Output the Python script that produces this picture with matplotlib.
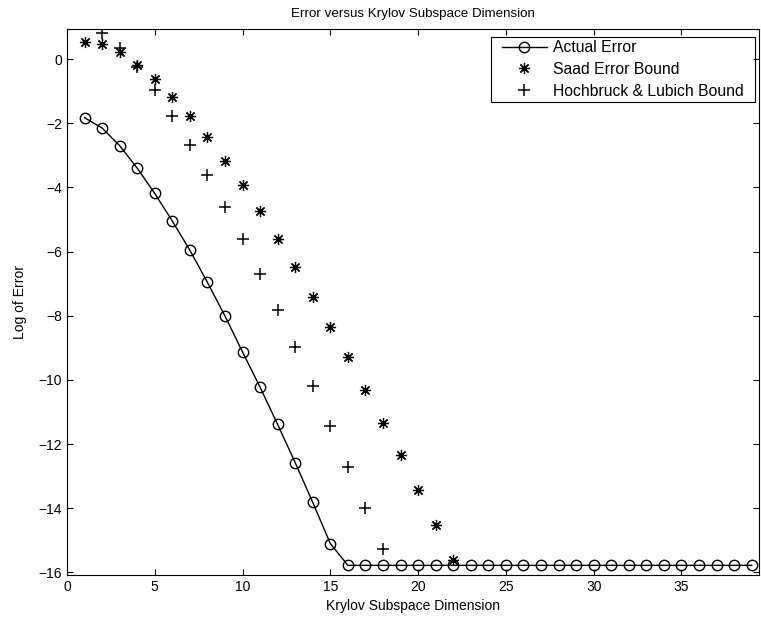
import numpy as np
import matplotlib.pyplot as plt
from matplotlib.patches import Rectangle

plt.rcParams['font.family'] = ['Liberation Sans', 'DejaVu Sans']

# data
dims = np.arange(1, 40)
actual = [-1.83, -2.15, -2.70, -3.40, -4.19, -5.05, -5.96, -6.96, -8.01, -9.13,
          -10.23, -11.39, -12.58, -13.82, -15.10] + [-15.78] * 24

saad_x = np.arange(1, 23)
saad = [0.52, 0.47, 0.22, -0.19, -0.63, -1.17, -1.79, -2.44, -3.17, -3.93,
        -4.74, -5.62, -6.49, -7.42, -8.36, -9.29, -10.30, -11.33, -12.35, -13.42,
        -14.51, -15.62]

hl_x = np.arange(1, 19)
hl = [1.3, 0.82, 0.34, -0.24, -0.98, -1.79, -2.67, -3.60, -4.61, -5.62,
      -6.71, -7.83, -8.98, -10.18, -11.44, -12.72, -13.98, -15.28]

W, H = 761, 622
fig = plt.figure(figsize=(W / 100, H / 100), dpi=100)
ax = fig.add_axes([0.088, 0.0756, 0.909, 0.8775])

ax.plot(dims, actual, color='k', lw=1, marker='o', ms=7.5, mfc='none', mew=1,
        label='Actual Error')
ax.plot(saad_x, saad, ls='none', color='k', marker=(8, 2, 0), ms=8, mew=0.9,
        label='Saad Error Bound')
ax.plot(hl_x, hl, ls='none', color='k', marker='+', ms=9, mew=1.1,
        label='Hochbruck & Lubich Bound')

ax.set_xlim(0, 39.4)
ax.set_ylim(-16.08, 0.93)
ax.set_xticks(range(0, 40, 5))
ax.set_yticks(range(-16, 1, 2))
ax.tick_params(direction='in', top=True, right=True, labelsize=10, length=4.5)
ax.set_title('Error versus Krylov Subspace Dimension', fontsize=9.6, pad=9)
ax.set_xlabel('Krylov Subspace Dimension', fontsize=10, labelpad=4)
ax.set_ylabel('Log of Error', fontsize=10, labelpad=8)

leg = ax.legend(loc='upper right', bbox_to_anchor=(0.9827, 0.9853), borderaxespad=0,
                fontsize=11.3, frameon=False,
                handlelength=2.85, handletextpad=0.4, labelspacing=0.42, borderpad=0.2)

# MATLAB-style legend box: wider side padding than top/bottom
fig.canvas.draw()
bb = leg.get_window_extent()
padx = 8
fig.add_artist(Rectangle(((bb.x0 - padx) / W, bb.y0 / H), (bb.width + 2 * padx) / W,
                         bb.height / H, transform=fig.transFigure, fill=False,
                         edgecolor='k', lw=0.8, zorder=5))

fig.savefig('out.png', dpi=100)
